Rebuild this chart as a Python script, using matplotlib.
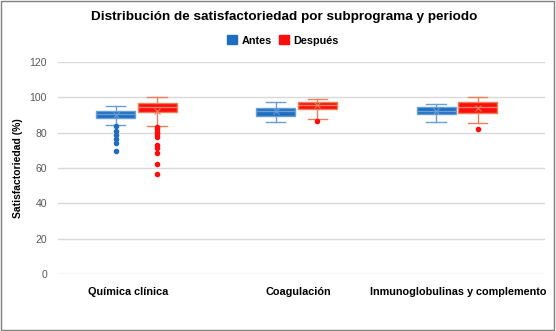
import matplotlib
matplotlib.use("Agg")
import matplotlib.pyplot as plt
from matplotlib.patches import Patch, Rectangle
from matplotlib.transforms import ScaledTranslation

categories = ["Química clínica", "Coagulación", "Inmunoglobulinas y complemento"]
periods = ["Antes", "Después"]

# Box statistics per period (one value per category)
antes_whislo = [84.3, 86.0, 85.8]
antes_q1 = [88.5, 89.6, 90.4]
antes_med = [90.5, 92.0, 92.4]
antes_q3 = [92.2, 94.1, 94.5]
antes_whishi = [95.2, 97.5, 96.2]
antes_mean = [89.8, 92.2, 92.5]
antes_fliers = [[83.5, 81.0, 78.5, 76.4, 74.0, 69.5], [], []]

despues_whislo = [83.9, 87.7, 85.3]
despues_q1 = [91.5, 93.4, 91.3]
despues_med = [94.3, 95.6, 94.3]
despues_q3 = [96.6, 97.5, 97.2]
despues_whishi = [100.0, 99.0, 100.0]
despues_mean = [92.5, 95.5, 94.0]
despues_fliers = [[83.0, 81.9, 80.6, 79.2, 77.4, 73.0, 71.1, 68.5, 62.5, 56.6], [86.4], [82.2]]

yticks = [0, 20, 40, 60, 80, 100, 120]

BLUE = "#1f6dbf"
BLUE_EDGE = "#6a9fd6"
RED = "#ff0c0c"
RED_EDGE = "#e9815a"
FONT = "Liberation Sans"

fig = plt.figure(figsize=(5.56, 3.31), dpi=100)
fig.patch.set_facecolor("white")
fig.add_artist(Rectangle((0.002, 0.003), 0.995, 0.994, transform=fig.transFigure,
                         fill=False, edgecolor="#7f7f7f", linewidth=1.0))

ax = fig.add_axes([58 / 556, 0.172, 487 / 556, 0.641])


def make_stats(whislo, q1, med, q3, whishi, mean, fliers):
    out = []
    for i in range(len(categories)):
        out.append(dict(whislo=whislo[i], q1=q1[i], med=med[i], q3=q3[i],
                        whishi=whishi[i], mean=mean[i], fliers=fliers[i]))
    return out


series = [
    (make_stats(antes_whislo, antes_q1, antes_med, antes_q3, antes_whishi, antes_mean, antes_fliers),
     -0.128, BLUE, BLUE_EDGE),
    (make_stats(despues_whislo, despues_q1, despues_med, despues_q3, despues_whishi, despues_mean, despues_fliers),
     0.131, RED, RED_EDGE),
]

for stats, off, fc, ec in series:
    pos = [i + off for i in range(len(categories))]
    ax.bxp(stats, positions=pos, widths=0.243, patch_artist=True, showmeans=True,
           boxprops=dict(facecolor=fc, edgecolor=ec, linewidth=1.0),
           medianprops=dict(color=ec, linewidth=1.0),
           whiskerprops=dict(color=ec, linewidth=1.0),
           capprops=dict(color=ec, linewidth=1.0),
           capwidths=0.12,
           meanprops=dict(marker="x", markeredgecolor=ec, markersize=5, markeredgewidth=0.8),
           flierprops=dict(marker="o", markerfacecolor=fc, markeredgecolor=fc, markersize=3.0))

ax.set_xlim(-0.487, 2.552)
ax.set_ylim(0, 120)
ax.set_yticks(yticks)
ax.set_xticks(range(len(categories)))
ax.set_xticklabels(categories, fontweight="bold", fontsize=7.8, fontfamily=FONT)
ax.tick_params(axis="x", length=0, pad=9)
ax.tick_params(axis="y", length=0, pad=8, labelcolor="#595959", labelsize=7.5)
for lab in ax.get_yticklabels():
    lab.set_fontfamily(FONT)
# category labels sit slightly off the box-pair centres
for lab, dx in zip(ax.get_xticklabels(), [-8, 2.5, 1.5]):
    lab.set_transform(lab.get_transform() + ScaledTranslation(dx / 100, 0, fig.dpi_scale_trans))
ax.grid(axis="y", color="#d9d9d9", linewidth=1.0)
ax.set_axisbelow(True)
for s in ax.spines.values():
    s.set_visible(False)

ax.set_ylabel("Satisfactoriedad (%)", fontweight="bold", fontsize=7.5, fontfamily=FONT)
ax.yaxis.set_label_coords((23 - 58) / 487, 0.5)

fig.text(284.5 / 556, 1 - 17 / 331, "Distribución de satisfactoriedad por subprograma y periodo",
         ha="center", va="center", fontsize=9.7, fontweight="bold", fontfamily=FONT)

handles = [Patch(facecolor=BLUE, edgecolor=BLUE), Patch(facecolor=RED, edgecolor=RED)]
fig.legend(handles, periods, loc="center", bbox_to_anchor=(283 / 556, 1 - 40.5 / 331), ncol=2,
           frameon=False, prop=dict(family=FONT, weight="bold", size=7.8),
           handlelength=0.9, handleheight=0.9, handletextpad=0.4, columnspacing=0.7)

fig.savefig("out.png", dpi=100)
